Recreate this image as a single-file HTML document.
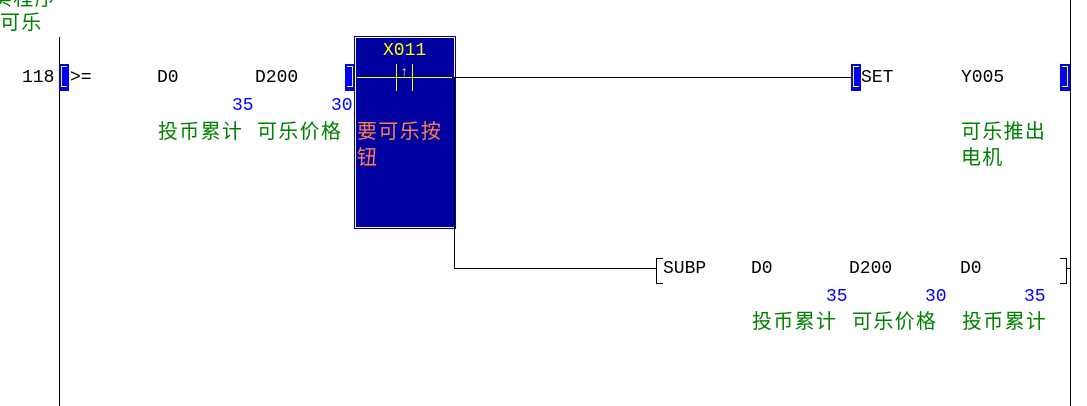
<!DOCTYPE html>
<html><head><meta charset="utf-8"><style>
body{margin:0;width:1087px;height:406px;background:#fff;position:relative;overflow:hidden;font-family:"Liberation Mono","Noto Sans CJK SC",monospace;font-size:18px;}
.t{position:absolute;line-height:20px;white-space:nowrap;}
.g{color:#008000;font-family:"Liberation Sans","Noto Sans CJK SC",sans-serif;font-size:20px;letter-spacing:1.3px;}
.b{color:#0000ff;}
.k{color:#000;}
.r{position:absolute;background:#000;}
.blk{position:absolute;background:#0000ff;width:10px;height:27px;}
.blk i{position:absolute;left:2px;top:2px;width:6px;height:21px;border:1px solid #ff0;border-left:none;box-sizing:border-box;}
</style></head><body>
<div class="t g" style="left:-8px;top:-11px">实程序</div>
<div class="t g" style="left:0;top:13px">可乐</div>
<div class="r" style="left:59px;top:37px;width:1px;height:369px"></div>
<div class="r" style="left:1070px;top:0;width:1px;height:406px"></div>
<div class="t k" style="left:22px;top:68px">118</div>
<div class="blk" style="left:59px;top:64px"><i style="border-left:1px solid #ff0;border-right:none"></i></div>
<div class="t k" style="left:70px;top:68px">&gt;=</div>
<div class="t k" style="left:157px;top:68px">D0</div>
<div class="t k" style="left:255px;top:68px">D200</div>
<div class="t b" style="left:232px;top:96px">35</div>
<div class="t b" style="left:331px;top:96px">30</div>
<div class="t g" style="left:158px;top:122px">投币累计</div>
<div class="t g" style="left:257px;top:122px">可乐价格</div>
<div class="blk" style="left:345px;top:64px"><i></i></div>
<div style="position:absolute;left:355px;top:37px;width:100px;height:191px;background:#0000a0;box-sizing:border-box;border:1px solid #fff;outline:1px solid #0000a0"></div>
<div class="t" style="left:383px;top:41px;color:#ff0">X011</div>
<div style="position:absolute;left:357px;top:77px;width:95px;height:1px;background:#ff0"></div>
<div style="position:absolute;left:396px;top:64px;width:1px;height:27px;background:#ff0"></div>
<div style="position:absolute;left:412px;top:64px;width:1px;height:27px;background:#ff0"></div>
<div class="t" style="left:400px;top:63px;color:#ff0;font-size:14px">↑</div>
<div class="t" style="left:357px;top:122px;color:#ff7f50;font-family:'Liberation Sans','Noto Sans CJK SC',sans-serif;font-size:20px;letter-spacing:1.3px">要可乐按</div>
<div class="t" style="left:357px;top:148px;color:#ff7f50;font-family:'Liberation Sans','Noto Sans CJK SC',sans-serif;font-size:20px">钮</div>
<div class="r" style="left:454px;top:77px;width:397px;height:1px"></div>
<div class="r" style="left:454px;top:77px;width:1px;height:192px"></div>
<div class="r" style="left:454px;top:268px;width:202px;height:1px"></div>
<div class="blk" style="left:851px;top:64px"><i style="border-left:1px solid #ff0;border-right:none"></i></div>
<div class="t k" style="left:861px;top:68px">SET</div>
<div class="t k" style="left:961px;top:68px">Y005</div>
<div class="blk" style="left:1060px;top:64px"><i></i></div>
<div class="t g" style="left:961px;top:122px">可乐推出</div>
<div class="t g" style="left:961px;top:148px">电机</div>
<div style="position:absolute;left:656px;top:258px;width:6px;height:24px;border:1px solid #000;border-right:none"></div>
<div class="t k" style="left:663px;top:259px">SUBP</div>
<div class="t k" style="left:751px;top:259px">D0</div>
<div class="t k" style="left:849px;top:259px">D200</div>
<div class="t k" style="left:960px;top:259px">D0</div>
<div style="position:absolute;left:1060px;top:258px;width:6px;height:24px;border:1px solid #000;border-left:none"></div>
<div class="r" style="left:1067px;top:268px;width:3px;height:1px"></div>
<div class="t b" style="left:826px;top:287px">35</div>
<div class="t b" style="left:925px;top:287px">30</div>
<div class="t b" style="left:1024px;top:287px">35</div>
<div class="t g" style="left:752px;top:312px">投币累计</div>
<div class="t g" style="left:852px;top:312px">可乐价格</div>
<div class="t g" style="left:962px;top:312px">投币累计</div>
</body></html>
